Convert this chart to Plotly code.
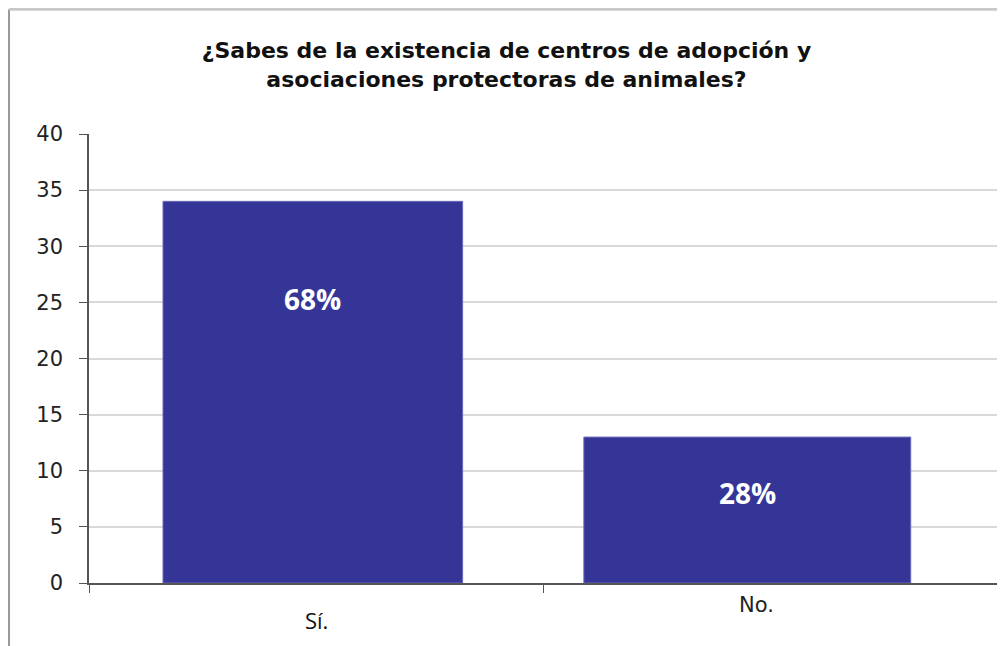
import plotly.graph_objects as go

# ── Data ───────────────────────────────────────────────────────────────────────
CATEGORIES = ["Sí.", "No."]
COUNTS = [34, 13]
PCT_LABELS = ["68%", "28%"]

TITLE = "¿Sabes de la existencia de centros de adopción y<br>asociaciones protectoras de animales?"

BAR_COLOR = "#353597"
GRID_COLOR = "#d9d9d9"
AXIS_COLOR = "#555555"

# bar geometry (fraction of a category slot)
BAR_WIDTH = [0.66, 0.72]
BAR_OFFSET = [-0.337, -0.41]
LABEL_Y = [25.3, 8.0]

fig = go.Figure(go.Bar(
    x=CATEGORIES,
    y=COUNTS,
    width=BAR_WIDTH,
    offset=BAR_OFFSET,
    marker=dict(color=BAR_COLOR, line=dict(color="#6a6ab8", width=1)),
    hoverinfo="skip",
))

# percentage labels inside the bars
for i, (pct, y) in enumerate(zip(PCT_LABELS, LABEL_Y)):
    fig.add_annotation(
        x=i + BAR_OFFSET[i] + BAR_WIDTH[i] / 2, xref="x", y=y, yref="y",
        text=f"<b>{pct}</b>", showarrow=False,
        font=dict(family="Open Sans, sans-serif", size=28, color="white"),
    )

# category labels (two different fonts in the original)
fig.add_annotation(x=0.0, xref="x", y=-0.082, yref="paper", text=CATEGORIES[0],
                   showarrow=False, yanchor="middle",
                   font=dict(family="Open Sans, sans-serif", size=22, color="#111"))
fig.add_annotation(x=0.97, xref="x", y=-0.049, yref="paper", text=CATEGORIES[1],
                   showarrow=False, yanchor="middle",
                   font=dict(family="DejaVu Sans, Verdana, sans-serif", size=21, color="#222"))

# frame edges of the original (cropped) chart area
fig.add_shape(type="line", xref="paper", yref="paper", x0=-0.0881, x1=-0.0881,
              y0=-0.2, y1=1.278, line=dict(color="#9a9a9a", width=2))
fig.add_shape(type="line", xref="paper", yref="paper", x0=-0.0881, x1=1.02,
              y0=1.278, y1=1.278, line=dict(color="#c8c8c8", width=3))

# page body has an 8px margin, so the figure is drawn 8px smaller
fig.update_layout(
    width=997, height=638,
    paper_bgcolor="white", plot_bgcolor="white",
    margin=dict(l=81, r=8, t=126, b=63),
    showlegend=False,
    title=dict(
        text=f"<b>{TITLE}</b>",
        x=0.5, xanchor="center", y=0.921, yanchor="middle",
        font=dict(family="DejaVu Sans, Verdana, sans-serif", size=22, color="#111"),
    ),
)

fig.update_xaxes(
    showticklabels=False,
    showline=True, linecolor=AXIS_COLOR, linewidth=1.5,
    ticks="outside", tickson="boundaries", ticklen=8, tickcolor=AXIS_COLOR,
    range=[-0.5, 1.5],
    showgrid=False,
)
fig.update_yaxes(
    range=[0, 40], dtick=5,
    showline=True, linecolor=AXIS_COLOR, linewidth=1.5,
    ticks="outside", ticklen=8, tickcolor=AXIS_COLOR,
    ticklabelstandoff=12,
    gridcolor=GRID_COLOR, gridwidth=1.5,
    zeroline=False,
    tickfont=dict(family="DejaVu Sans, Verdana, sans-serif", size=21, color="#222"),
)

fig.write_html("out.html")
